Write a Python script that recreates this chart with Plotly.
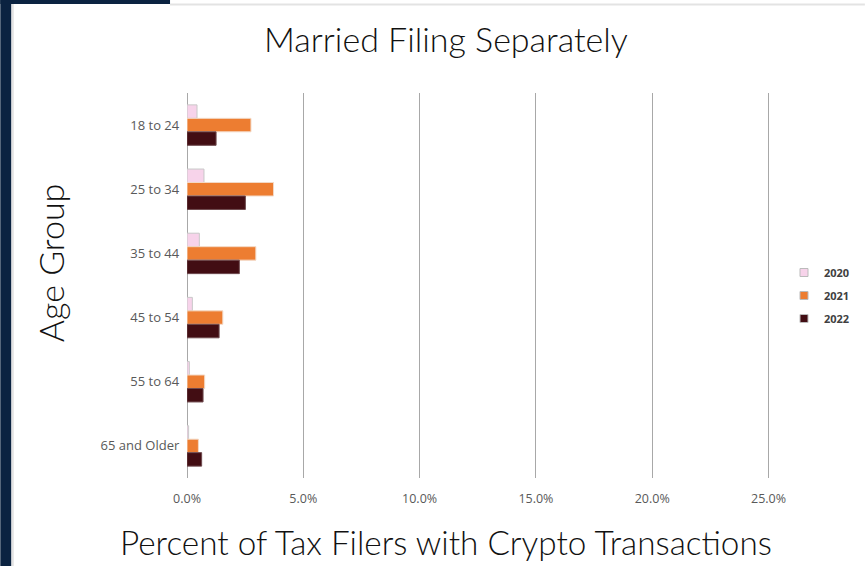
import plotly.graph_objects as go

# Data (share of filers, as fractions)
age_groups = ["18 to 24", "25 to 34", "35 to 44", "45 to 54", "55 to 64", "65 and Older"]
years = ["2020", "2021", "2022"]
pct_2020 = [0.0043, 0.0073, 0.0053, 0.0023, 0.0010, 0.0007]
pct_2021 = [0.0275, 0.0372, 0.0296, 0.0154, 0.0076, 0.0049]
pct_2022 = [0.0125, 0.0251, 0.0225, 0.0138, 0.0069, 0.0063]
x_ticks = [0, 0.05, 0.10, 0.15, 0.20, 0.25]

series = [pct_2020, pct_2021, pct_2022]
colors = ["#F7D3EA", "#ED7D31", "#420D13"]
outlines = ["#C8C8C8", "#F3D9C6", "#6E4A4E"]

W, H = 866, 566
L, R, T, B = 187, 76, 93, 88
pw, ph = W - L - R, H - T - B

TITLE_FONT = "Lato, sans-serif"
TICK_FONT = "Open Sans, sans-serif"
big = dict(size=34, color="#111111", family=TITLE_FONT, weight=300)


def px_x(p):
    return (p - L) / pw


def px_y(p):
    return (H - B - p) / ph


fig = go.Figure()
for yr, vals, col, oc in zip(years, series, colors, outlines):
    fig.add_trace(go.Bar(
        y=age_groups,
        x=vals,
        name=yr,
        orientation="h",
        showlegend=False,
        marker=dict(color=col, line=dict(color=oc, width=1)),
    ))

# small square legend keys, like the original
for yr, col, oc in zip(years, colors, outlines):
    fig.add_trace(go.Scatter(
        x=[None], y=[None], mode="markers", name=yr, legendgroup=yr,
        marker=dict(symbol="square", size=8, color=col, line=dict(color="#BBBBBB", width=1)),
    ))

# page frame decoration (navy strips + light border)
shapes = [
    dict(type="rect", xref="paper", yref="paper",
         x0=px_x(0), x1=px_x(11), y0=px_y(H), y1=px_y(0),
         fillcolor="#0B2341", line_width=0, layer="above"),
    dict(type="rect", xref="paper", yref="paper",
         x0=px_x(0), x1=px_x(170), y0=px_y(4), y1=px_y(0),
         fillcolor="#0B2341", line_width=0, layer="above"),
    dict(type="line", xref="paper", yref="paper",
         x0=px_x(170), x1=px_x(W), y0=px_y(4.5), y1=px_y(4.5),
         line=dict(color="#E3E3E3", width=2)),
    dict(type="line", xref="paper", yref="paper",
         x0=px_x(12.5), x1=px_x(12.5), y0=px_y(H), y1=px_y(4),
         line=dict(color="#E3E3E3", width=2)),
]

# axis titles as annotations (the original centres them on the whole slide, not the plot)
annotations = [
    dict(text="Percent of Tax Filers with Crypto Transactions", xref="paper", yref="paper",
         x=px_x(446), y=px_y(542), xanchor="center", yanchor="middle",
         showarrow=False, font={**big, "size": 33.3}),
    dict(text="Age Group", xref="paper", yref="paper", textangle=-90,
         x=px_x(50), y=px_y(263), xanchor="center", yanchor="middle",
         showarrow=False, font=big),
]

fig.update_layout(
    width=W, height=H,
    margin=dict(l=L, r=R, t=T, b=B),
    paper_bgcolor="white",
    plot_bgcolor="white",
    barmode="group",
    bargap=0.37,
    bargroupgap=0.0,
    font=dict(family=TICK_FONT, color="#595959"),
    title=dict(text="Married Filing Separately", x=446 / W, xanchor="center", xref="container",
               y=1 - 40 / H, yanchor="middle", font=big),
    shapes=shapes,
    annotations=annotations,
    legend=dict(x=px_x(784), y=px_y(258), xanchor="left", yanchor="top",
                font=dict(size=11, color="#404040", family=TICK_FONT, weight="bold"),
                traceorder="grouped", itemwidth=30, tracegroupgap=4,
                bgcolor="rgba(0,0,0,0)"),
    showlegend=True,
)

fig.update_xaxes(
    range=[0, 0.2588],
    tickvals=x_ticks,
    tickformat=".1%",
    showgrid=True, gridcolor="#A8A8A8", gridwidth=1.3,
    zeroline=True, zerolinecolor="#A8A8A8", zerolinewidth=1.3,
    ticks="", tickfont=dict(size=12.5, color="#595959"),
    ticklabelstandoff=11,
)

fig.update_yaxes(
    autorange="reversed",
    showgrid=False, ticks="", ticklen=0,
    tickfont=dict(size=13, color="#595959"),
    ticksuffix="  ",
)

fig.write_html("out.html", config={"displayModeBar": False},
               post_script="document.body.style.margin='0';")
